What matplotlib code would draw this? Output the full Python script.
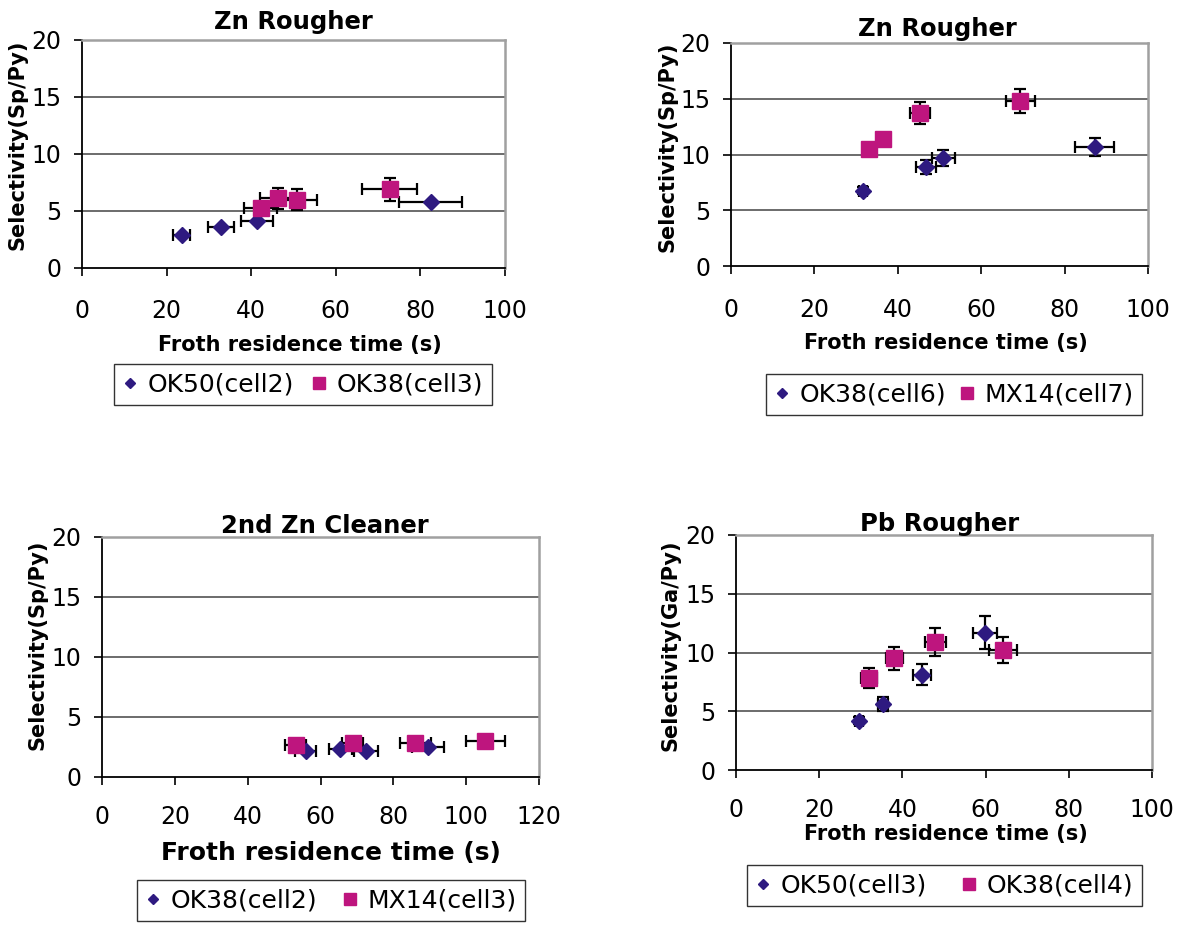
import matplotlib
matplotlib.use("Agg")
import matplotlib.pyplot as plt
from matplotlib.lines import Line2D

# ---------------- data ----------------
# Panel 1: Zn Rougher
p1_title = "Zn Rougher"
p1_d_label = "OK50(cell2)"
p1_d_x = [23.6, 32.9, 41.3, 82.4]
p1_d_y = [2.9, 3.6, 4.1, 5.8]
p1_d_xerr = [2.0, 3.0, 3.8, 7.4]
p1_d_yerr = [0.0, 0.0, 0.0, 0.0]
p1_s_label = "OK38(cell3)"
p1_s_x = [42.2, 46.3, 50.9, 72.7]
p1_s_y = [5.3, 6.1, 6.0, 6.9]
p1_s_xerr = [3.9, 4.2, 4.7, 6.5]
p1_s_yerr = [0.0, 0.9, 0.9, 1.0]

# Panel 2: Zn Rougher
p2_title = "Zn Rougher"
p2_d_label = "OK38(cell6)"
p2_d_x = [31.6, 46.7, 50.9, 87.2]
p2_d_y = [6.75, 8.9, 9.7, 10.7]
p2_d_xerr = [1.0, 2.4, 2.7, 4.6]
p2_d_yerr = [0.3, 0.65, 0.7, 0.8]
p2_s_label = "MX14(cell7)"
p2_s_x = [33.1, 36.5, 45.3, 69.4]
p2_s_y = [10.5, 11.4, 13.7, 14.8]
p2_s_xerr = [1.2, 1.2, 2.4, 3.4]
p2_s_yerr = [0.5, 0.5, 1.0, 1.05]

# Panel 3: 2nd Zn Cleaner
p3_title = "2nd Zn Cleaner"
p3_d_label = "OK38(cell2)"
p3_d_x = [55.9, 65.4, 72.5, 89.4]
p3_d_y = [2.2, 2.3, 2.2, 2.5]
p3_d_xerr = [2.8, 3.2, 3.4, 4.4]
p3_d_yerr = [0.0, 0.0, 0.0, 0.0]
p3_s_label = "MX14(cell3)"
p3_s_x = [53.2, 68.8, 86.0, 105.3]
p3_s_y = [2.7, 2.85, 2.85, 3.0]
p3_s_xerr = [2.9, 3.0, 4.3, 5.4]
p3_s_yerr = [0.0, 0.0, 0.0, 0.0]

# Panel 4: Pb Rougher
p4_title = "Pb Rougher"
p4_d_label = "OK50(cell3)"
p4_d_x = [29.5, 35.3, 44.7, 59.9]
p4_d_y = [4.2, 5.6, 8.1, 11.7]
p4_d_xerr = [1.0, 1.2, 2.2, 2.9]
p4_d_yerr = [0.3, 0.6, 0.9, 1.4]
p4_s_label = "OK38(cell4)"
p4_s_x = [32.0, 38.1, 47.9, 64.1]
p4_s_y = [7.8, 9.5, 10.9, 10.2]
p4_s_xerr = [1.9, 2.0, 2.5, 3.4]
p4_s_yerr = [0.85, 1.0, 1.2, 1.1]

y_ticks = [0, 5, 10, 15, 20]
x_ticks_100 = [0, 20, 40, 60, 80, 100]
x_ticks_120 = [0, 20, 40, 60, 80, 100, 120]
xlabel_text = "Froth residence time (s)"
ylabel_sp = "Selectivity(Sp/Py)"
ylabel_ga = "Selectivity(Ga/Py)"

# ---------------- style ----------------
NAVY = "#2E1A80"
MAGENTA = "#BE157E"
W, H = 1183, 926

fig = plt.figure(figsize=(W / 100, H / 100), dpi=100)
fig.patch.set_facecolor("white")


def fx(px):
    return px / W


def fy(py):
    return 1 - py / H


panels = [
    dict(box=(82, 505, 40, 268), title=p1_title, title_base=(293, 29),
         d=(p1_d_x, p1_d_y, p1_d_xerr, p1_d_yerr, p1_d_label),
         s=(p1_s_x, p1_s_y, p1_s_xerr, p1_s_yerr, p1_s_label),
         xt=x_ticks_100, xmax=100, ylabel=ylabel_sp, ylab_pos=(18, 145),
         xlab_base=(300, 351), xlab_fs=15, tick_fs=17, xpad=16,
         leg=(114, 364, 378)),
    dict(box=(731, 1148, 43, 266), title=p2_title, title_base=(937, 36),
         d=(p2_d_x, p2_d_y, p2_d_xerr, p2_d_yerr, p2_d_label),
         s=(p2_s_x, p2_s_y, p2_s_xerr, p2_s_yerr, p2_s_label),
         xt=x_ticks_100, xmax=100, ylabel=ylabel_sp, ylab_pos=(668, 147),
         xlab_base=(946, 349), xlab_fs=15, tick_fs=17, xpad=17,
         leg=(766, 374, 376)),
    dict(box=(102, 539, 537, 777), title=p3_title, title_base=(325, 533),
         d=(p3_d_x, p3_d_y, p3_d_xerr, p3_d_yerr, p3_d_label),
         s=(p3_s_x, p3_s_y, p3_s_xerr, p3_s_yerr, p3_s_label),
         xt=x_ticks_120, xmax=120, ylabel=ylabel_sp, ylab_pos=(38, 645),
         xlab_base=(331, 860), xlab_fs=18, tick_fs=17, xpad=14,
         leg=(137, 880, 388)),
    dict(box=(736, 1152, 535, 770), title=p4_title, title_base=(940, 531),
         d=(p4_d_x, p4_d_y, p4_d_xerr, p4_d_yerr, p4_d_label),
         s=(p4_s_x, p4_s_y, p4_s_xerr, p4_s_yerr, p4_s_label),
         xt=x_ticks_100, xmax=100, ylabel=ylabel_ga, ylab_pos=(670, 645),
         xlab_base=(946, 840), xlab_fs=15, tick_fs=17, xpad=14.5,
         leg=(747, 865, 395)),
]

for p in panels:
    l, r, t, b = p["box"]
    ax = fig.add_axes([fx(l), fy(b), fx(r - l), (b - t) / H])
    ax.set_xlim(0, p["xmax"])
    ax.set_ylim(0, 20)
    ax.set_xticks(p["xt"])
    ax.set_yticks(y_ticks)
    ax.tick_params(axis="both", direction="out", length=6, width=1.2,
                   labelsize=p["tick_fs"], color="black")
    ax.tick_params(axis="x", pad=p["xpad"])
    ax.tick_params(axis="y", pad=9)
    for sp in ("left", "bottom"):
        ax.spines[sp].set_color("black")
        ax.spines[sp].set_linewidth(1.3)
    for sp in ("top", "right"):
        ax.spines[sp].set_color("#a0a0a0")
        ax.spines[sp].set_linewidth(1.8)
    for gy in y_ticks[1:-1]:
        ax.axhline(gy, color="#444444", lw=1.1, zorder=1)

    for (xs, ys, xe, ye, lab), mk, col, ms in (
            (p["d"], "D", NAVY, 7.8), (p["s"], "s", MAGENTA, 11)):
        yerr = ye if any(v > 0 for v in ye) else None
        ax.errorbar(xs, ys, xerr=xe, yerr=yerr, fmt="none", ecolor="black",
                    elinewidth=1.6, capsize=4.6, capthick=1.6, zorder=3)
        ax.plot(xs, ys, ls="none", marker=mk, ms=ms, color=col,
                markeredgecolor=col, zorder=4, label=lab)

    # title
    fig.text(fx(p["title_base"][0]), fy(p["title_base"][1]), p["title"],
             ha="center", va="baseline", fontsize=17.5, fontweight="bold")
    # x label
    fig.text(fx(p["xlab_base"][0]), fy(p["xlab_base"][1]), xlabel_text,
             ha="center", va="baseline", fontsize=p["xlab_fs"],
             fontweight="bold")
    # y label
    fig.text(fx(p["ylab_pos"][0]), fy(p["ylab_pos"][1]), p["ylabel"],
             ha="center", va="center", rotation=90, fontsize=15,
             fontweight="bold")

    # legend
    lx, ly, lw_ = p["leg"]
    handles = [
        Line2D([], [], ls="none", marker="D", ms=5.5, color=NAVY),
        Line2D([], [], ls="none", marker="s", ms=8.5, color=MAGENTA),
    ]
    labels = [p["d"][4], p["s"][4]]
    leg = fig.legend(handles, labels, loc="upper left",
                     bbox_to_anchor=(fx(lx), fy(ly), fx(lw_), 0.0001),
                     mode="expand", ncol=2, fontsize=18, frameon=True,
                     fancybox=False, borderaxespad=0, handlelength=0.6,
                     handletextpad=0.4, columnspacing=0.6, borderpad=0.35)
    leg.get_frame().set_edgecolor("black")
    leg.get_frame().set_linewidth(1.0)

fig.savefig("out.png", dpi=100, facecolor="white")
